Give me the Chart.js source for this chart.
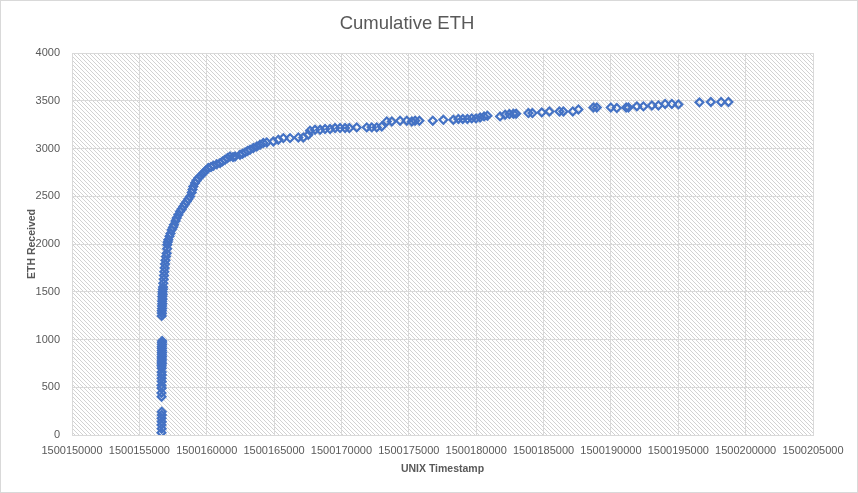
<!DOCTYPE html>
<html>
<head>
<meta charset="utf-8">
<script src="https://cdn.jsdelivr.net/npm/chart.js@4.4.0/dist/chart.umd.min.js"></script>
<style>
  html, body { margin: 0; padding: 0; background: #fff; }
  #wrap { width: 858px; height: 493px; box-sizing: border-box; border: 1px solid #d9d9d9; }
  canvas { display: block; }
</style>
</head>
<body>
<div id="wrap"><canvas id="chart" width="856" height="491"></canvas></div>
<script>
// axis ranges
const xMin = 1500150000, xMax = 1500205000, xStep = 5000;
const yMin = 0, yMax = 4000, yStep = 500;

// UNIX timestamps
const timestamps = [
  // bottom of the first burst
  1500156640, 1500156655, 1500156645, 1500156660, 1500156650, 1500156665, 1500156660,
  // middle of the burst
  1500156650, 1500156640, 1500156655, 1500156645, 1500156660, 1500156650, 1500156665, 1500156655,
  1500156660, 1500156650, 1500156670, 1500156655, 1500156675, 1500156660, 1500156680, 1500156665,
  1500156685, 1500156670, 1500156680, 1500156665, 1500156685, 1500156675, 1500156690,
  // upper burst and bend
  1500156659, 1500156670, 1500156665, 1500156690, 1500156682, 1500156700, 1500156690, 1500156715,
  1500156704, 1500156730, 1500156719, 1500156745, 1500156756, 1500156778, 1500156808, 1500156830,
  1500156852, 1500156882, 1500156904, 1500156941, 1500156979, 1500157031, 1500157060, 1500157075,
  1500157110, 1500157149, 1500157238, 1500157313, 1500157402, 1500157498, 1500157572, 1500157684,
  1500157773, 1500157892, 1500158018, 1500158144, 1500158263, 1500158389, 1500158515, 1500158634,
  1500158760, 1500158886, 1500158946, 1500159005, 1500159132, 1500159243, 1500159377, 1500159555,
  1500159748, 1500159933, 1500160119, 1500160319, 1500160490, 1500160743, 1500160988, 1500161173,
  1500161359, 1500161544, 1500161730, 1500161953, 1500162101, 1500162472, 1500162658, 1500162844,
  1500163029, 1500163215, 1500163460, 1500163712, 1500163957, 1500164202,
  // long tail
  1500164455, 1500164945, 1500165316, 1500165687, 1500166184, 1500166800, 1500167172, 1500167543,
  1500167669, 1500168040, 1500168412, 1500168783, 1500169154, 1500169525, 1500169896, 1500170268,
  1500170587, 1500171136, 1500171879, 1500172250, 1500172621, 1500172992, 1500173363, 1500173735,
  1500174351, 1500174848, 1500175219, 1500175464, 1500175784, 1500176778, 1500177565, 1500178308,
  1500178679, 1500179006, 1500179347, 1500179674, 1500179993, 1500180290, 1500180587, 1500180832,
  1500181775, 1500182146, 1500182465, 1500182762, 1500182963, 1500183876, 1500184173,
  1500184870, 1500185435, 1500186177, 1500186474, 1500187172, 1500187588, 1500188701, 1500188954,
  1500189993, 1500190438, 1500191129, 1500191300, 1500191923, 1500192413, 1500193037, 1500193527,
  1500194024, 1500194522, 1500195012, 1500196571, 1500197417, 1500198182, 1500198724
];

// cumulative ETH at each timestamp
const ethReceived = [
  24, 65, 105, 140, 175, 210, 244,
  401, 440, 489, 520, 559, 595, 629, 660,
  699, 725, 745, 765, 785, 805, 825, 845,
  865, 885, 905, 925, 945, 965, 985,
  1247, 1275, 1300, 1325, 1350, 1375, 1400, 1425,
  1450, 1475, 1500, 1525, 1550, 1590, 1630, 1670,
  1710, 1750, 1790, 1830, 1870, 1904, 1950, 1991,
  2020, 2044, 2080, 2110, 2148, 2175, 2201, 2240,
  2271, 2305, 2340, 2365, 2393, 2420, 2445, 2470,
  2497, 2539, 2570, 2602, 2638, 2665, 2690, 2715,
  2743, 2770, 2795, 2807, 2819, 2835, 2847, 2865,
  2882, 2900, 2917, 2910, 2917, 2934, 2945, 2959,
  2973, 2987, 3005, 3021, 3040, 3057,
  3063, 3074, 3092, 3109, 3109, 3116, 3116, 3144,
  3186, 3196, 3196, 3204, 3204, 3214, 3214, 3214,
  3214, 3221, 3221, 3221, 3221, 3231, 3283, 3283,
  3291, 3291, 3283, 3291, 3291, 3291, 3301, 3301,
  3309, 3309, 3309, 3315, 3315, 3325, 3336, 3343,
  3336, 3354, 3361, 3364, 3364, 3371, 3371,
  3378, 3388, 3388, 3388, 3388, 3409, 3430, 3430,
  3430, 3424, 3430, 3430, 3441, 3441, 3451, 3451,
  3466, 3466, 3462, 3483, 3487, 3487, 3487
];

const textColor = '#595959';
const gridColor = '#d9d9d9';

// light downward diagonal hatch behind the plot area
const hatchBackground = {
  id: 'hatchBackground',
  beforeDraw(chart) {
    const { ctx, chartArea: a } = chart;
    const tile = document.createElement('canvas');
    tile.width = 4;
    tile.height = 4;
    const t = tile.getContext('2d');
    t.fillStyle = '#ffffff';
    t.fillRect(0, 0, 4, 4);
    t.fillStyle = '#d2d2d2';
    for (let i = 0; i < 4; i++) t.fillRect(i, i, 1, 1);
    ctx.save();
    ctx.fillStyle = ctx.createPattern(tile, 'repeat');
    ctx.fillRect(a.left, a.top, a.right - a.left, a.bottom - a.top);
    ctx.restore();
  }
};

const points = timestamps.map((t, i) => ({ x: t, y: ethReceived[i] }));

new Chart(document.getElementById('chart'), {
  type: 'scatter',
  data: {
    datasets: [{
      label: 'ETH Received',
      data: points,
      pointStyle: 'rectRot',
      pointRadius: 3.9,
      pointBorderWidth: 2.2,
      borderColor: '#4472C4',
      backgroundColor: 'rgba(255,255,255,0)'
    }]
  },
  options: {
    responsive: false,
    animation: false,
    layout: { padding: { left: 0, right: 44, top: 0, bottom: 0 } },
    plugins: {
      legend: { display: false },
      tooltip: { enabled: false },
      title: {
        display: true,
        text: 'Cumulative ETH',
        color: textColor,
        font: { family: 'Liberation Sans', size: 18.5, weight: 'normal' },
        padding: { top: 12, bottom: 17.8 }
      }
    },
    scales: {
      x: {
        type: 'linear',
        min: xMin,
        max: xMax,
        afterFit: s => { s.height = 57; },
        grid: { color: gridColor, drawTicks: false },
        border: { color: gridColor },
        ticks: {
          stepSize: xStep,
          maxTicksLimit: 20,
          autoSkip: false,
          maxRotation: 0,
          padding: 9,
          color: textColor,
          font: { family: 'Liberation Sans', size: 11 },
          callback: v => String(v)
        },
        title: {
          display: true,
          text: 'UNIX Timestamp',
          color: textColor,
          font: { family: 'Liberation Sans', size: 10.5, weight: 'bold' },
          padding: { top: 0, bottom: 16.7 }
        }
      },
      y: {
        min: yMin,
        max: yMax,
        afterFit: s => { s.width = 71; },
        grid: { color: gridColor, drawTicks: false },
        border: { color: gridColor },
        ticks: {
          stepSize: yStep,
          padding: 12,
          color: textColor,
          font: { family: 'Liberation Sans', size: 11 },
          callback: v => String(v)
        },
        title: {
          display: true,
          text: 'ETH Received',
          color: textColor,
          font: { family: 'Liberation Sans', size: 10.5, weight: 'bold' },
          padding: { top: 24.7, bottom: 0 }
        }
      }
    }
  },
  plugins: [hatchBackground]
});
</script>
</body>
</html>
